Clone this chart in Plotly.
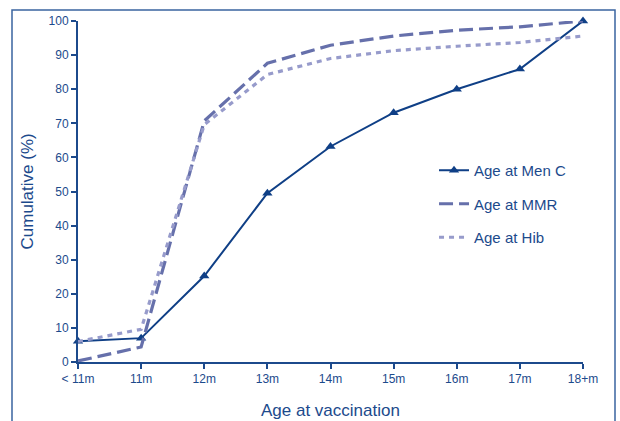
import plotly.graph_objects as go

categories = ["< 11m", "11m", "12m", "13m", "14m", "15m", "16m", "17m", "18+m"]
men_c = [6.1, 7.0, 25.2, 49.5, 63.2, 73.1, 80.0, 85.9, 100.0]
mmr = [0.3, 4.4, 70.7, 87.6, 92.9, 95.6, 97.3, 98.3, 100.0]
hib = [6.0, 9.6, 69.6, 84.3, 89.0, 91.3, 92.6, 93.7, 95.6]
y_ticks = [0, 10, 20, 30, 40, 50, 60, 70, 80, 90, 100]

navy = "#0f3f86"
axis_col = "#1c4a8c"
font = "Liberation Sans, Arial, sans-serif"

fig = go.Figure()
fig.add_trace(go.Scatter(x=categories, y=men_c, name="Age at Men C", mode="lines+markers",
                         line=dict(color=navy, width=2),
                         marker=dict(symbol="triangle-up", size=9, color=navy),
                         cliponaxis=False, legendgroup="a"))
fig.add_trace(go.Scatter(x=categories, y=mmr, name="Age at MMR", mode="lines",
                         line=dict(color="#6670ab", width=3.2, dash="14px,6px"),
                         cliponaxis=False, legendgroup="b"))
fig.add_trace(go.Scatter(x=categories, y=hib, name="Age at Hib", mode="lines",
                         line=dict(color="#979bcb", width=3.2, dash="5px,5px"),
                         cliponaxis=False, legendgroup="c"))

L, R, T, B = 78, 37, 21, 59
W, H = 620, 421
pw, ph = W - L - R, H - T - B

fig.update_layout(
    width=W, height=H,
    margin=dict(l=L, r=R, t=T, b=B, autoexpand=False),
    paper_bgcolor="white", plot_bgcolor="white",
    font=dict(family=font, color=axis_col, size=12),
    showlegend=True,
    legend=dict(x=0.705, y=0.61, xanchor="left", yanchor="top",
                font=dict(size=15, color=axis_col, family=font),
                tracegroupgap=11, itemwidth=30, bgcolor="rgba(0,0,0,0)"),
    xaxis=dict(type="category", categoryorder="array", categoryarray=categories,
               range=[0, 8], showgrid=False, zeroline=False, automargin=False,
               showline=True, linecolor=axis_col, linewidth=2,
               ticks="outside", ticklen=5, tickwidth=1.5, tickcolor=axis_col,
               tickfont=dict(size=12, color=axis_col)),
    yaxis=dict(range=[0, 100], tickvals=y_ticks, showgrid=False, zeroline=False, automargin=False,
               showline=True, linecolor=axis_col, linewidth=2,
               ticks="outside", ticklen=5, tickwidth=1.5, tickcolor=axis_col,
               tickfont=dict(size=12, color=axis_col)),
    annotations=[
        dict(text="Age at vaccination", xref="paper", yref="paper", x=0.5, y=(H - B - 410) / ph,
             xanchor="center", yanchor="middle", showarrow=False,
             font=dict(size=17, color=axis_col, family=font)),
        dict(text="Cumulative (%)", xref="paper", yref="paper", x=(27 - L) / pw, y=0.5,
             xanchor="center", yanchor="middle", showarrow=False, textangle=-90,
             font=dict(size=17, color=axis_col, family=font)),
    ],
    shapes=[dict(type="rect", xref="paper", yref="paper",
                 x0=(12 - L) / pw, x1=(615 - L) / pw,
                 y0=(H - B - 430) / ph, y1=(H - B - 10) / ph,
                 line=dict(color="#3a64a0", width=1.5), fillcolor="rgba(0,0,0,0)", layer="below")],
)

fig.write_html("out.html", config={"displayModeBar": False},
               post_script="document.body.style.margin='0';document.body.style.padding='0';")
